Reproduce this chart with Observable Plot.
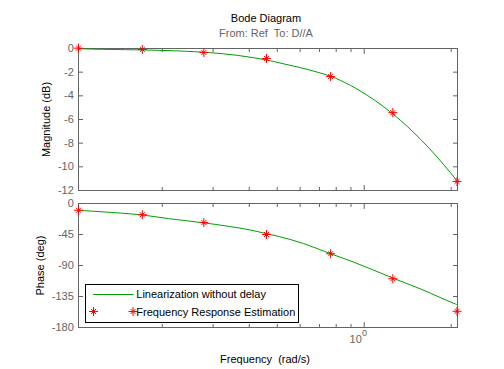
<!DOCTYPE html>
<html><head><meta charset="utf-8">
<script src="https://cdn.jsdelivr.net/npm/d3@7"></script>
<script src="https://cdn.jsdelivr.net/npm/@observablehq/plot@0.6"></script>
<style>
body{margin:0;background:#fff;}
#wrap{position:relative;width:504px;height:369px;overflow:hidden;font-family:"Liberation Sans",Arial,Helvetica,sans-serif;font-size:11px;}
.abs{position:absolute;}
.t{position:absolute;line-height:13px;white-space:nowrap;text-align:center;}
</style></head>
<body><div id="wrap">
<div class="t" style="left:0;width:532px;top:11.7px;color:#000;">Bode Diagram</div>
<div class="t" style="left:0;width:532px;top:27.2px;color:#646464;">From: Ref&nbsp; To: D//A</div>
<div class="t" style="left:0;width:530px;top:352.7px;color:#000;">Frequency&nbsp; (rad/s)</div>
<div class="t" style="left:-14.5px;width:120px;top:112.5px;color:#000;transform:rotate(-90deg);transform-origin:60px 6.5px;">Magnitude (dB)</div>
<div class="t" style="left:-19.8px;width:120px;top:258.5px;color:#000;transform:rotate(-90deg);transform-origin:60px 6.5px;">Phase (deg)</div>
</div>
<script>
// ---- data ----
const xDomain = [0.1026, 2.103];
const magTicks = [-12, -10, -8, -6, -4, -2, 0];
const phaseTicks = [-180, -135, -90, -45, 0];
const minorTicks = [0.2, 0.3, 0.4, 0.5, 0.6, 0.7, 0.8, 0.9, 2];
const majorTicks = [1];

// Linearization without delay (green line)
const magLineFreq = [0.1026, 0.124, 0.180, 0.225, 0.264, 0.326, 0.364, 0.414, 0.474, 0.527, 0.602, 0.688, 0.765, 0.897, 1.024, 1.169, 1.266, 1.409, 1.566, 1.789, 1.989, 2.103];
const magLine     = [-0.02, -0.07, -0.13, -0.20, -0.28, -0.45, -0.58, -0.78, -1.04, -1.30, -1.62, -2.00, -2.35, -3.12, -3.95, -4.93, -5.60, -6.58, -7.67, -9.18, -10.51, -11.22];
const phaseLineFreq = [0.1026, 0.1449, 0.170, 0.210, 0.274, 0.339, 0.4085, 0.460, 0.505, 0.618, 0.765, 0.921, 1.260, 1.566, 2.070, 2.103];
const phaseLine     = [-9.9, -14.1, -16.6, -21.9, -27.7, -33.1, -38.9, -43.8, -47.7, -58.3, -72.9, -85.2, -108.5, -124.0, -145.9, -147.0];

// Frequency Response Estimation (red markers)
const estFreq  = [0.1026, 0.1706, 0.2786, 0.459, 0.765, 1.256, 2.095];
const estMag   = [0.03, -0.08, -0.34, -0.84, -2.37, -5.42, -11.24];
const estPhase = [-9.8, -16.3, -27.7, -45.0, -72.9, -109.2, -156.5];

// ---- styles ----
const axisGray = "#646464";
const green = "#00a000";
const red = "#ff0000";
const star = {
  draw(ctx, size) {
    const r = Math.sqrt(size / Math.PI);
    ctx.moveTo(-r, 0); ctx.lineTo(r, 0);
    ctx.moveTo(0, -r); ctx.lineTo(0, r);
    const d = r * 0.55;
    ctx.moveTo(-d, -d); ctx.lineTo(d, d);
    ctx.moveTo(-d, d); ctx.lineTo(d, -d);
  }
};

const magLineData = magLineFreq.map((f, i) => ({f, v: magLine[i]}));
const phaseLineData = phaseLineFreq.map((f, i) => ({f, v: phaseLine[i]}));
const magEst = estFreq.map((f, i) => ({f, v: estMag[i]}));
const phaseEst = estFreq.map((f, i) => ({f, v: estPhase[i]}));

function panel({yDomain, yTicks, top, bottom, marks}) {
  return Plot.plot({
    width: 504, height: 369,
    marginLeft: 78, marginRight: 47, marginTop: top, marginBottom: 369 - bottom,
    x: {type: "log", domain: xDomain},
    y: {domain: yDomain},
    style: {background: "transparent", fontFamily: '"Liberation Sans", Arial, sans-serif', fontSize: "11px", color: axisGray, position: "absolute", left: "0px", top: "0px", overflow: "visible"},
    marks: [
      Plot.frame({stroke: axisGray}),
      Plot.axisY(yTicks, {anchor: "left", tickSize: -5, tickPadding: 9.7, tickFormat: d => String(d), label: null, stroke: axisGray, fill: axisGray}),
      Plot.axisY(yTicks, {anchor: "right", tickSize: -5, tickFormat: () => "", label: null, stroke: axisGray}),
      Plot.axisX(minorTicks, {anchor: "bottom", tickSize: -3, tickFormat: () => "", label: null, stroke: axisGray}),
      Plot.axisX(minorTicks, {anchor: "top", tickSize: -3, tickFormat: () => "", label: null, stroke: axisGray}),
      Plot.axisX(majorTicks, {anchor: "bottom", tickSize: -5, tickFormat: () => "", label: null, stroke: axisGray}),
      Plot.axisX(majorTicks, {anchor: "top", tickSize: -5, tickFormat: () => "", label: null, stroke: axisGray}),
      ...marks
    ]
  });
}

const wrap = document.getElementById("wrap");

const topPlot = panel({
  yDomain: [-12, 0], yTicks: magTicks, top: 48, bottom: 190,
  marks: [
    Plot.line(magLineData, {x: "f", y: "v", stroke: green, strokeWidth: 1, clip: true, curve: "monotone-x"}),
    Plot.dot(magEst, {x: "f", y: "v", symbol: star, r: 4.5, stroke: red, fill: "none", strokeWidth: 1})
  ]
});

const bottomPlot = panel({
  yDomain: [-180, 0], yTicks: phaseTicks, top: 203, bottom: 327,
  marks: [
    Plot.line(phaseLineData, {x: "f", y: "v", stroke: green, strokeWidth: 1, clip: true, curve: "monotone-x"}),
    Plot.dot(phaseEst, {x: "f", y: "v", symbol: star, r: 4.5, stroke: red, fill: "none", strokeWidth: 1}),
    Plot.text(majorTicks, {x: d => d, frameAnchor: "bottom", text: () => "10", dy: 15.5, dx: -2.4, textAnchor: "end", fill: axisGray, stroke: null}),
    Plot.text(majorTicks, {x: d => d, frameAnchor: "bottom", text: () => "0", dy: 8.4, dx: -2.2, textAnchor: "start", fontSize: 9, fill: axisGray, stroke: null})
  ]
});

wrap.appendChild(topPlot);
wrap.appendChild(bottomPlot);

// legend
const leg = d3.select(wrap).append("svg")
  .attr("class", "abs").attr("width", 504).attr("height", 369)
  .style("left", "0px").style("top", "0px");
leg.append("rect").attr("x", 85.5).attr("y", 284.5).attr("width", 213).attr("height", 38)
  .attr("fill", "white").attr("stroke", "black");
leg.append("line").attr("x1", 93).attr("x2", 133.5).attr("y1", 294.5).attr("y2", 294.5)
  .attr("stroke", green);
leg.append("text").attr("x", 136.3).attr("y", 298.3).attr("fill", "black")
  .style("font-family", '"Liberation Sans", Arial, sans-serif').style("font-size", "11px")
  .text("Linearization without delay");
for (const cx of [93.5, 133]) {
  const p = d3.path();
  star.draw(p, Math.PI * 4.5 * 4.5);
  leg.append("path").attr("d", p.toString()).attr("transform", `translate(${cx},311.5)`)
    .attr("stroke", red).attr("fill", "none");
}
leg.append("text").attr("x", 136.3).attr("y", 316).attr("fill", "black")
  .style("font-family", '"Liberation Sans", Arial, sans-serif').style("font-size", "11px")
  .text("Frequency Response Estimation");
</script>
</body></html>
